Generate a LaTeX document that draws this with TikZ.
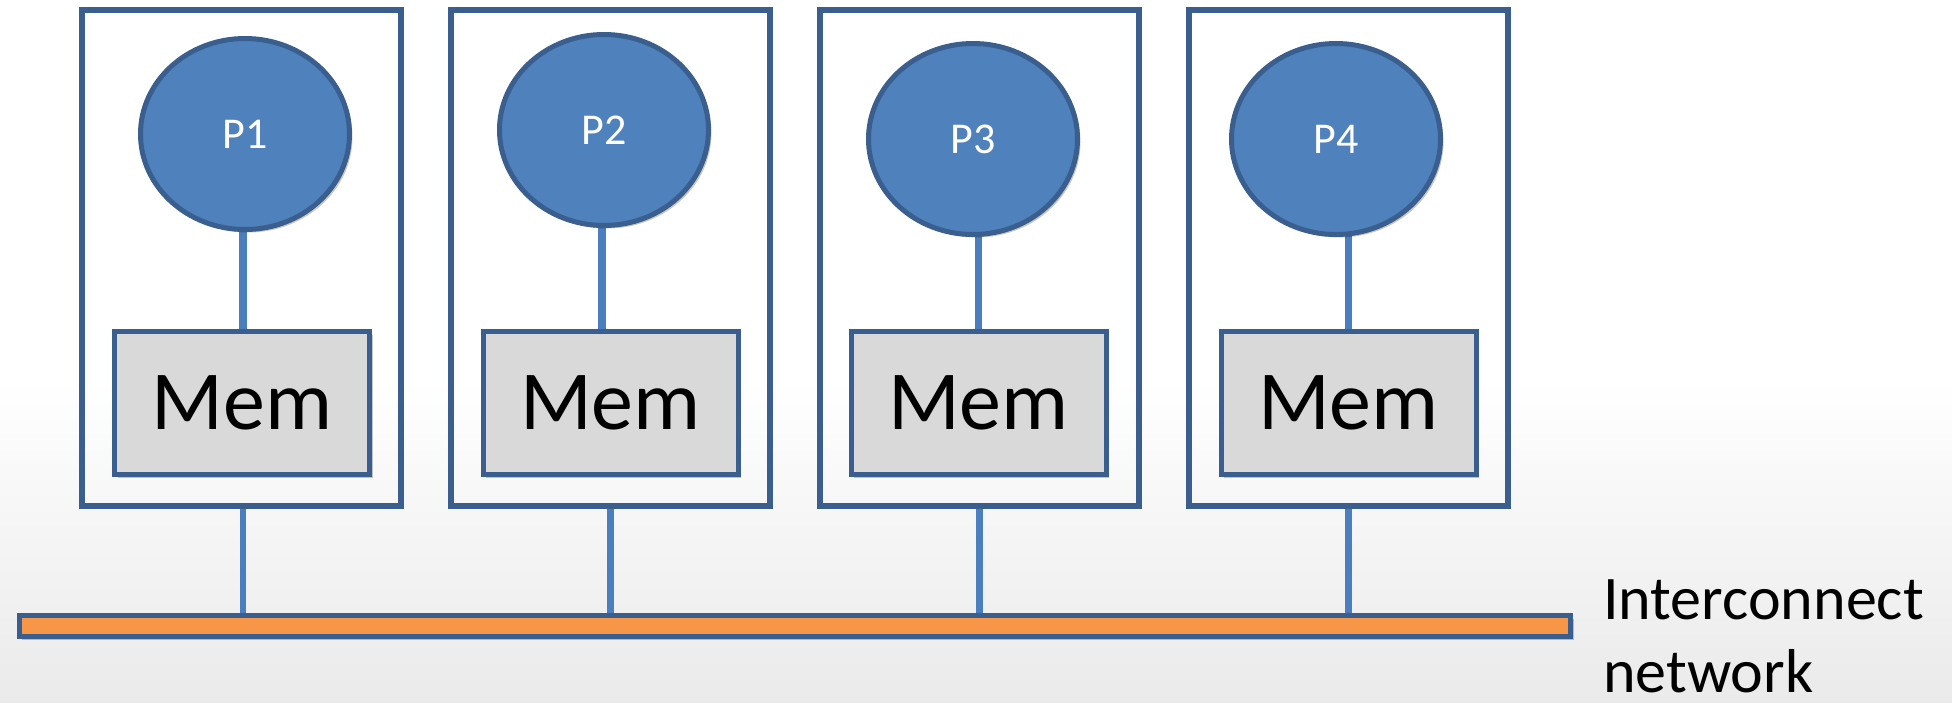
\documentclass[tikz,border=0pt]{standalone}
\usepackage{fontspec}
\setmainfont{Carlito}
\usetikzlibrary{shapes.geometric,shadows,backgrounds}
\pgfdeclarelayer{bgfill}
\pgfsetlayers{bgfill,background,main}
\definecolor{pblue}{HTML}{4F81BD}
\definecolor{dblue}{HTML}{3A5F8F}
\definecolor{lblue}{HTML}{4A7EBF}
\definecolor{memgray}{HTML}{D9D9D9}
\definecolor{barorange}{HTML}{F79646}
\definecolor{bggray}{HTML}{EAEAEA}
\begin{document}
\begin{tikzpicture}[x=1pt,y=-1pt,
  softshadow/.style={drop shadow={shadow xshift=3pt,shadow yshift=-3pt,fill=black,opacity=0.22}},
  outerbox/.style={rectangle,draw=dblue,line width=5.5pt,minimum width=319pt,minimum height=496pt,inner sep=0pt},
  proc/.style={ellipse,draw=dblue,line width=5pt,fill=pblue,minimum width=209pt,minimum height=191pt,inner sep=0pt,text=white,font=\fontsize{44}{52}\selectfont,softshadow},
  mem/.style={rectangle,draw=dblue,line width=5pt,fill=memgray,minimum width=255pt,minimum height=143pt,inner sep=0pt,font=\fontsize{84}{100}\selectfont,softshadow},
  bus/.style={rectangle,draw=dblue,line width=5pt,fill=barorange,minimum width=1551.5pt,minimum height=21pt,inner sep=0pt,softshadow},
  uplink/.style={draw=lblue,line width=7.5pt},
  downlink/.style={draw=lblue,line width=6.5pt},
  label/.style={anchor=base west,inner sep=0pt,font=\fontsize{62}{75}\selectfont}
]
\useasboundingbox (0,0) rectangle (1952,702);
\begin{pgfonlayer}{bgfill}
  \fill[white] (0,0) rectangle (1952,381);
  \shade[top color=white,bottom color=bggray] (0,380) rectangle (1952,702);
\end{pgfonlayer}

% outer boxes
\node[outerbox] (ob1) at (241.5,258) {};
\node[outerbox] (ob2) at (610.5,258) {};
\node[outerbox] (ob3) at (979.5,258) {};
\node[outerbox] (ob4) at (1348.5,258) {};

% processors
\node[proc] (p1) at (245,134) {P1};
\node[proc] (p2) at (604,130) {P2};
\node[proc] (p3) at (973,139) {P3};
\node[proc] (p4) at (1336,139) {P4};

% memories
\node[mem] (m1) at (242,403) {Mem};
\node[mem] (m2) at (610.5,403) {Mem};
\node[mem] (m3) at (978.5,403) {Mem};
\node[mem] (m4) at (1348.5,403) {Mem};

% interconnect bar
\node[bus] (bus) at (794.75,626) {};

% label
\node[label] (lab1) at (1603,619) {Interconnect};
\node[label] (lab2) at (1603,692) {network};

% connectors
\begin{pgfonlayer}{background}
  \draw[uplink] ([xshift=1pt]m1.north) -- ([xshift=1pt]m1.north |- p1.center);
  \draw[uplink] ([xshift=-8.5pt]m2.north) -- ([xshift=-8.5pt]m2.north |- p2.center);
  \draw[uplink] (m3.north) -- (m3.north |- p3.center);
  \draw[uplink] (m4.north) -- (m4.north |- p4.center);
  \draw[downlink] ([xshift=1.5pt]ob1.south) -- ([xshift=1.5pt]ob1.south |- bus.center);
  \draw[downlink] (ob2.south) -- (ob2.south |- bus.center);
  \draw[downlink] (ob3.south) -- (ob3.south |- bus.center);
  \draw[downlink] (ob4.south) -- (ob4.south |- bus.center);
\end{pgfonlayer}
\end{tikzpicture}
\end{document}
